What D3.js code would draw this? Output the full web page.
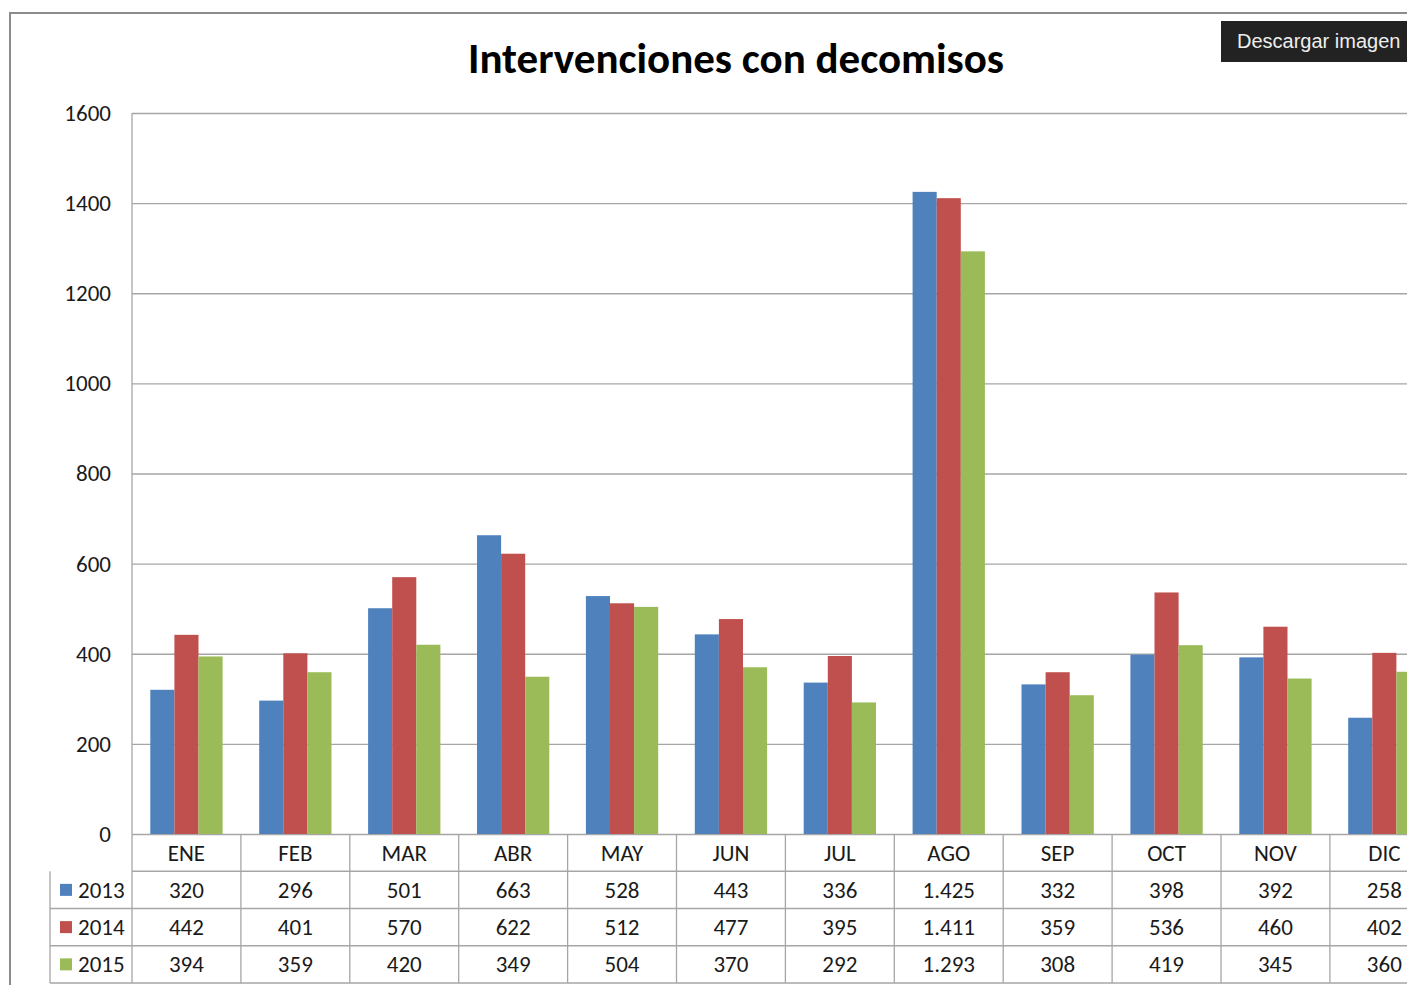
<!DOCTYPE html>
<html>
<head>
<meta charset="utf-8">
<script src="https://cdn.jsdelivr.net/npm/d3@7/dist/d3.min.js"></script>
<style>
  html, body { margin: 0; padding: 0; background: #fff; overflow: hidden; }
  svg { display: block; }
  .lbl { font-family: Carlito, Lato, "Open Sans", sans-serif; font-size: 23px; fill: #1a1a1a; }
</style>
</head>
<body>
<div id="chart"></div>
<script>
// chart data
const months = ['ENE', 'FEB', 'MAR', 'ABR', 'MAY', 'JUN', 'JUL', 'AGO', 'SEP', 'OCT', 'NOV', 'DIC'];
const years = ['2013', '2014', '2015'];
const values2013 = [320, 296, 501, 663, 528, 443, 336, 1425, 332, 398, 392, 258];
const values2014 = [442, 401, 570, 622, 512, 477, 395, 1411, 359, 536, 460, 402];
const values2015 = [394, 359, 420, 349, 504, 370, 292, 1293, 308, 419, 345, 360];
const yTicks = [0, 200, 400, 600, 800, 1000, 1200, 1400, 1600];
const colors = ['#4f81bd', '#c0504d', '#9bbb59'];

const series = [values2013, values2014, values2015];
const width = 1407, height = 985;

// plot area (runs past the right edge, like the screenshot)
const plotLeft = 132, bandW = 108.9;
const plotTop = 113, base = 834;

// number format with "." as thousands separator
const fmt = d3.formatLocale({ decimal: ',', thousands: '.', grouping: [3], currency: ['', ''] }).format(',d');

const svg = d3.select('#chart').append('svg')
    .attr('width', width)
    .attr('height', height);

// outer frame
svg.append('rect')
    .attr('x', 10).attr('y', 13)
    .attr('width', 1600).attr('height', 1200)
    .attr('fill', '#fff')
    .attr('stroke', '#8c8c8c')
    .attr('stroke-width', 2);

let x = d3.scaleBand()
    .domain(months)
    .range([plotLeft, plotLeft + bandW * months.length]);
let x1 = d3.scaleBand()
    .domain(years)
    .range([18.3, bandW - 18.3]);
let y = d3.scaleLinear()
    .domain([0, 1600])
    .range([base, plotTop]);

// gridlines + y labels
let yAxis = svg.append('g')
    .attr('transform', 'translate(' + plotLeft + ',0)')
    .call(d3.axisLeft(y).tickValues(yTicks).tickFormat(d3.format('d'))
        .tickSize(-bandW * months.length).tickPadding(21));
yAxis.select('.domain').remove();
yAxis.selectAll('line').attr('stroke', '#a6a6a6').attr('stroke-width', 1.3);
yAxis.selectAll('text').attr('class', 'lbl').attr('fill', null).style('font-size', '23px');

// bars
let groups = svg.append('g').selectAll('g')
    .data(months)
    .enter()
    .append('g')
    .attr('transform', d => 'translate(' + x(d) + ',0)');
groups.selectAll('rect')
    .data((m, i) => series.map((s, k) => ({ year: years[k], value: s[i], k: k })))
    .enter()
    .append('rect')
    .attr('x', d => x1(d.year))
    .attr('y', d => y(d.value))
    .attr('width', x1.bandwidth())
    .attr('height', d => base - y(d.value))
    .attr('fill', d => colors[d.k]);

// data table below the plot
let rows = d3.scaleBand()
    .domain(['head'].concat(years))
    .range([base, 983]);
const tableLine = '#a6a6a6';
let table = svg.append('g');
// horizontal rules
['head'].concat(years).forEach((r, i) => {
    table.append('line')
        .attr('x1', i === 0 ? plotLeft : 50).attr('x2', plotLeft + bandW * months.length)
        .attr('y1', rows(r) + rows.bandwidth()).attr('y2', rows(r) + rows.bandwidth())
        .attr('stroke', tableLine).attr('stroke-width', 1.3);
});
// vertical rules
months.forEach(m => {
    table.append('line')
        .attr('x1', x(m) + bandW).attr('x2', x(m) + bandW)
        .attr('y1', base).attr('y2', 983)
        .attr('stroke', tableLine).attr('stroke-width', 1.3);
});
table.append('line')
    .attr('x1', plotLeft).attr('x2', plotLeft)
    .attr('y1', plotTop).attr('y2', 983)
    .attr('stroke', tableLine).attr('stroke-width', 1.3);
table.append('line')
    .attr('x1', 50).attr('x2', 50)
    .attr('y1', rows('2013')).attr('y2', 983)
    .attr('stroke', tableLine).attr('stroke-width', 1.3);

// month headers
table.selectAll('text.month')
    .data(months)
    .enter()
    .append('text')
    .attr('class', 'lbl month')
    .attr('x', d => x(d) + bandW / 2)
    .attr('y', rows('head') + rows.bandwidth() / 2)
    .attr('dy', '0.35em')
    .attr('text-anchor', 'middle')
    .text(d => d);

// value cells
years.forEach((yr, k) => {
    table.selectAll('text.v' + yr)
        .data(series[k])
        .enter()
        .append('text')
        .attr('class', 'lbl v' + yr)
        .attr('x', (d, i) => x(months[i]) + bandW / 2)
        .attr('y', rows(yr) + rows.bandwidth() / 2)
        .attr('dy', '0.35em')
        .attr('text-anchor', 'middle')
        .text(d => fmt(d));
    // legend key
    table.append('rect')
        .attr('x', 60).attr('y', rows(yr) + rows.bandwidth() / 2 - 6)
        .attr('width', 12).attr('height', 12)
        .attr('fill', colors[k]);
    table.append('text')
        .attr('class', 'lbl')
        .attr('x', 78)
        .attr('y', rows(yr) + rows.bandwidth() / 2)
        .attr('dy', '0.35em')
        .text(yr);
});

// title
svg.append('text')
    .attr('x', 736).attr('y', 73)
    .attr('text-anchor', 'middle')
    .style('font-family', 'Carlito, Lato, "Open Sans", sans-serif')
    .style('font-weight', 'bold')
    .style('font-size', '43px')
    .attr('fill', '#000')
    .text('Intervenciones con decomisos');

// download button
svg.append('rect')
    .attr('x', 1221).attr('y', 21)
    .attr('width', 200).attr('height', 41)
    .attr('fill', '#222');
svg.append('text')
    .attr('x', 1237).attr('y', 48)
    .style('font-family', '"Liberation Sans", Arial, sans-serif')
    .style('font-size', '20px')
    .attr('fill', '#eee')
    .text('Descargar imagen');
</script>
</body>
</html>
